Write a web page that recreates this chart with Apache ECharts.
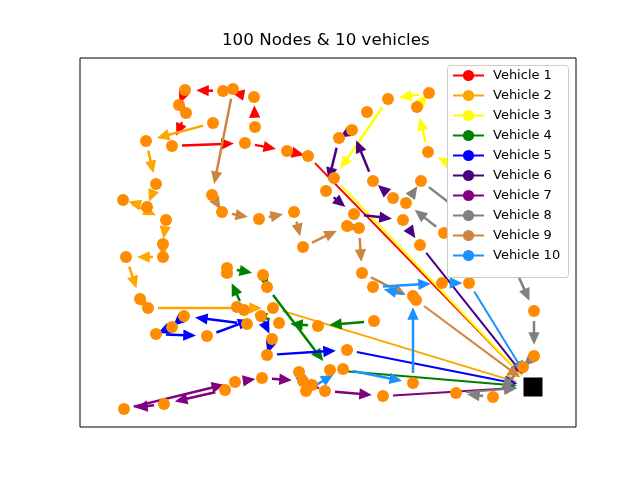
<!DOCTYPE html>
<html>
<head>
<meta charset="utf-8">
<script src="https://cdn.jsdelivr.net/npm/echarts@6/dist/echarts.min.js"></script>
<style>
  body { margin: 0; background: #fff; }
  #main { width: 640px; height: 480px; }
</style>
</head>
<body>
<div id="main"></div>
<script>
// node positions (plot units, y grows downward)
var depot = [533, 387];

var vehicleNames = ['Vehicle 1', 'Vehicle 2', 'Vehicle 3', 'Vehicle 4', 'Vehicle 5',
                    'Vehicle 6', 'Vehicle 7', 'Vehicle 8', 'Vehicle 9', 'Vehicle 10'];
var vehicleColors = ['#ff0000', '#ffa500', '#ffff00', '#008000', '#0000ff',
                     '#4b0082', '#800080', '#808080', '#cd853f', '#1e90ff'];

var route1 = [[255,127],[254,97],[223,91],[185,90],[179,105],[186,113],[172,146],[245,143],[287,151],[308,156]];
var route2 = [[213,123],[146,141],[156,184],[147,207],[123,200],[166,220],[163,244],[163,257],[126,257],[140,299],[148,308],[273,308]];
var route3 = [[524,166],[500,151],[467,173],[428,152],[417,107],[429,93],[388,99],[334,178]];
var route4 = [[374,321],[318,326],[279,323],[244,310],[227,273],[227,268],[263,275],[267,287],[330,370]];
var route5 = [[247,324],[184,316],[172,327],[156,334],[207,336],[261,316],[272,339],[267,355],[347,350]];
var route6 = [[393,198],[373,181],[352,130],[339,138],[326,191],[354,214],[403,220],[420,245]];
var route7 = [[225,390],[164,404],[124,409],[235,382],[262,378],[303,381],[325,391],[383,396]];
var route8 = [[444,233],[406,203],[421,181],[505,246],[534,311],[534,356],[523,367],[493,397],[456,393]];
var route9 = [[233,89],[212,195],[222,212],[259,219],[294,212],[303,247],[347,226],[359,228],[362,273],[416,300]];
var route10 = [[299,372],[306,391],[343,369],[413,383],[413,296],[373,287],[442,283],[469,283]];
var extraNodes = [[367,112],[237,307],[312,385],[475,171],[480,180],[468,186]];

var routes = [route1, route2, route3, route4, route5, route6, route7, route8, route9, route10];

var allNodes = [];
routes.forEach(function (r) { r.forEach(function (p) { allNodes.push(p); }); });
extraNodes.forEach(function (p) { allNodes.push(p); });

// arrow segments: node -> node, then last node -> depot
function segmentsOf(route) {
    var segs = [];
    for (var i = 0; i < route.length - 1; i++) {
        segs.push([route[i][0], route[i][1], route[i + 1][0], route[i + 1][1], 0]);
    }
    var last = route[route.length - 1];
    segs.push([last[0], last[1], depot[0], depot[1], 1]);
    return segs;
}

function renderArrow(params, api) {
    var a = api.coord([api.value(0), api.value(1)]);
    var b = api.coord([api.value(2), api.value(3)]);
    var toDepot = api.value(4);
    var color = api.visual('color');
    var dx = b[0] - a[0], dy = b[1] - a[1];
    var len = Math.sqrt(dx * dx + dy * dy);
    var ux = dx / len, uy = dy / len;
    var sA = 10, sB = toDepot ? 18 : 13;
    var headL = 10, headW = 4.5;
    var start, tip;
    if (len - sA - sB >= headL) {
        start = [a[0] + ux * sA, a[1] + uy * sA];
        tip = [b[0] - ux * sB, b[1] - uy * sB];
    } else {
        var mx = (a[0] + b[0]) / 2, my = (a[1] + b[1]) / 2;
        start = [mx - ux * headL / 2, my - uy * headL / 2];
        tip = [mx + ux * headL / 2, my + uy * headL / 2];
    }
    var base = [tip[0] - ux * headL, tip[1] - uy * headL];
    var nx = -uy, ny = ux;
    return {
        type: 'group',
        children: [{
            type: 'line',
            shape: { x1: start[0], y1: start[1], x2: base[0] + ux, y2: base[1] + uy },
            style: { stroke: color, lineWidth: toDepot ? 2 : 2.5 }
        }, {
            type: 'polygon',
            shape: { points: [tip, [base[0] + nx * headW, base[1] + ny * headW], [base[0] - nx * headW, base[1] - ny * headW]] },
            style: { fill: color, stroke: color, lineWidth: 1.5, lineJoin: 'miter' }
        }]
    };
}

var series = [];
vehicleNames.forEach(function (name, i) {
    series.push({
        name: name + ' route',
        type: 'custom',
        coordinateSystem: 'cartesian2d',
        renderItem: renderArrow,
        itemStyle: { color: vehicleColors[i] },
        data: segmentsOf(routes[i]),
        encode: { x: [0, 2], y: [1, 3] },
        z: 2,
        silent: true
    });
});
// legend entries
vehicleNames.forEach(function (name, i) {
    series.push({
        name: name,
        type: 'line',
        data: [],
        symbol: 'circle',
        symbolSize: 10,
        itemStyle: { color: vehicleColors[i] },
        lineStyle: { color: vehicleColors[i], width: 2 }
    });
});
series.push({
    name: 'nodes',
    type: 'scatter',
    data: allNodes,
    symbolSize: 12,
    itemStyle: { color: '#ff8c00', opacity: 1 },
    z: 3,
    silent: true
});
series.push({
    name: 'depot',
    type: 'scatter',
    data: [depot],
    symbol: 'rect',
    symbolSize: 19,
    itemStyle: { color: '#000', opacity: 1 },
    z: 3,
    silent: true
});
// frame behind the legend, drawn above the marks
series.push({
    name: 'legend frame',
    type: 'custom',
    coordinateSystem: 'none',
    data: [[0]],
    z: 5,
    silent: true,
    renderItem: function () {
        return {
            type: 'rect',
            shape: { x: 447.5, y: 65.5, width: 121, height: 212, r: 3 },
            style: { fill: '#ffffff', stroke: '#cccccc', lineWidth: 1 }
        };
    }
});

var myChart = echarts.init(document.getElementById('main'));
myChart.setOption({
    animation: false,
    backgroundColor: '#fff',
    title: {
        text: '100 Nodes & 10 vehicles',
        left: 222,
        top: 32,
        padding: 0,
        textStyle: { fontFamily: 'DejaVu Sans', fontSize: 16.7, fontWeight: 'normal', color: '#000' }
    },
    legend: {
        data: vehicleNames,
        orient: 'vertical',
        left: 447,
        top: 65,
        z: 60,
        padding: [4, 8, 6, 5],
        itemWidth: 31,
        itemHeight: 14,
        itemGap: 7,
        textStyle: { fontFamily: 'DejaVu Sans', fontSize: 13, color: '#000', padding: [0, 0, 0, 4] }
    },
    grid: {
        left: 80, top: 58, right: 64, bottom: 53,
        show: true, borderColor: '#000', borderWidth: 1, backgroundColor: 'transparent'
    },
    xAxis: { type: 'value', min: 80, max: 576, show: false },
    yAxis: { type: 'value', min: 58, max: 427, inverse: true, show: false },
    series: series
});
</script>
</body>
</html>
